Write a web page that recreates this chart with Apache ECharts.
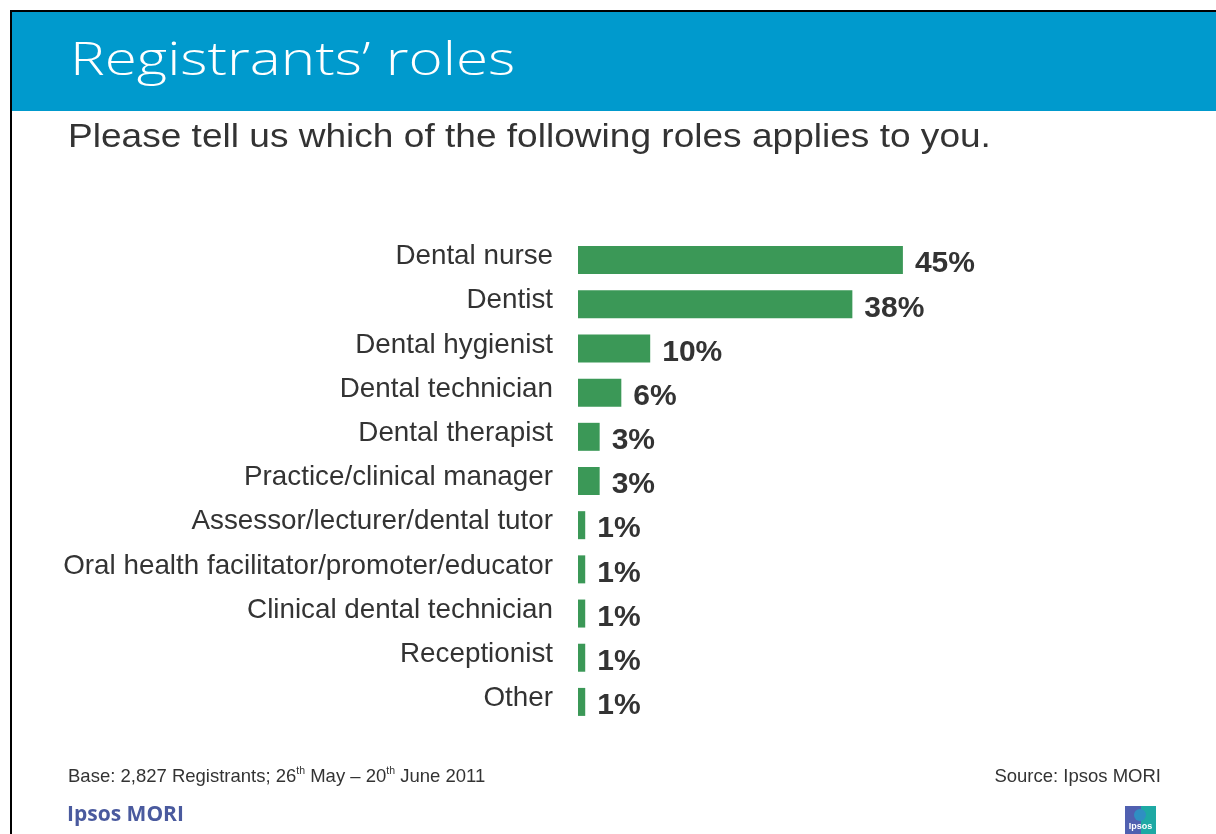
<!DOCTYPE html>
<html>
<head>
<meta charset="utf-8">
<title>Registrants' roles</title>
<script src="https://cdn.jsdelivr.net/npm/echarts@6/dist/echarts.min.js"></script>
<style>
  html, body { margin: 0; padding: 0; background: #ffffff; }
  #chart { width: 1216px; height: 834px; }
</style>
</head>
<body>
<div id="chart"></div>
<script>
// Survey answers: share of registrants per role (percent)
const roles = [
  'Dental nurse',
  'Dentist',
  'Dental hygienist',
  'Dental technician',
  'Dental therapist',
  'Practice/clinical manager',
  'Assessor/lecturer/dental tutor',
  'Oral health facilitator/promoter/educator',
  'Clinical dental technician',
  'Receptionist',
  'Other'
];
const shares = [45, 38, 10, 6, 3, 3, 1, 1, 1, 1, 1];

const titleText = 'Registrants\u2019 roles';
const questionText = 'Please tell us which of the following roles applies to you.';
const sourceText = 'Source: Ipsos MORI';
const brandText = 'Ipsos MORI';

const ARIAL = 'Arial, "Liberation Sans", sans-serif';

const chart = echarts.init(document.getElementById('chart'), null, { renderer: 'canvas' });

const option = {
  backgroundColor: '#ffffff',
  animation: false,
  grid: { left: 578, top: 238, width: 361, height: 486, containLabel: false },
  xAxis: {
    type: 'value',
    min: 0,
    max: 50,
    show: false
  },
  yAxis: {
    type: 'category',
    data: roles,
    inverse: true,
    axisLine: { show: false },
    axisTick: { show: false },
    splitLine: { show: false },
    axisLabel: {
      margin: 25,
      fontFamily: ARIAL,
      fontSize: 27.8,
      color: '#333333',
      // short line box anchored at its bottom lifts each label slightly above its bar
      verticalAlign: 'bottom',
      lineHeight: 7
    }
  },
  series: [{
    type: 'bar',
    data: shares,
    barWidth: 28,
    itemStyle: { color: '#3b9857' },
    label: {
      show: true,
      position: 'right',
      distance: 12,
      offset: [0, 4],
      formatter: '{c}%',
      fontFamily: ARIAL,
      fontWeight: 'bold',
      fontSize: 30,
      color: '#333333'
    }
  }],
  graphic: [
    // header band and frame lines
    { type: 'rect', left: 10, top: 10, shape: { width: 1206, height: 101 }, style: { fill: '#000000' }, z: 0 },
    { type: 'rect', left: 12, top: 12, shape: { width: 1204, height: 99 }, style: { fill: '#009acd' }, z: 1 },
    { type: 'rect', left: 10, top: 10, shape: { width: 2, height: 824 }, style: { fill: '#000000' }, z: 1 },
    {
      type: 'text', x: 70, y: 62, scaleX: 1.27, z: 2,
      style: {
        text: titleText,
        fill: '#ffffff',
        font: '300 46px "Open Sans", "DejaVu Sans", sans-serif',
        verticalAlign: 'middle'
      }
    },
    {
      type: 'text', x: 68, y: 138, scaleX: 1.09, z: 2,
      style: {
        text: questionText,
        fill: '#333333',
        font: '34px ' + ARIAL,
        verticalAlign: 'middle'
      }
    },
    {
      type: 'text', left: 68, top: 764, z: 2,
      style: {
        text: '{n|Base: 2,827 Registrants; 26}{s|th}{n| May \u2013 20}{s|th}{n| June 2011}',
        rich: {
          n: { fontSize: 18.5, fontFamily: ARIAL, fill: '#333333', lineHeight: 22, verticalAlign: 'bottom' },
          s: { fontSize: 10.5, fontFamily: ARIAL, fill: '#333333', lineHeight: 22, verticalAlign: 'top', padding: [2, 0, 0, 0] }
        }
      }
    },
    {
      type: 'text', right: 55, top: 767, z: 2,
      style: {
        text: sourceText,
        fill: '#333333',
        font: '18.5px ' + ARIAL
      }
    },
    {
      type: 'text', left: 67, top: 805, z: 2,
      style: {
        text: brandText,
        fill: '#4a5a9e',
        font: 'bold 21px "Open Sans", "DejaVu Sans", sans-serif'
      }
    },
    // small brand mark, bottom right
    {
      type: 'group', left: 1125, top: 806, z: 2,
      children: [
        { type: 'rect', shape: { x: 0, y: 0, width: 16, height: 28 }, style: { fill: '#5060b0' } },
        { type: 'rect', shape: { x: 16, y: 0, width: 15, height: 28 }, style: { fill: '#1ea9a4' } },
        { type: 'circle', shape: { cx: 15, cy: 9, r: 6 }, style: { fill: '#2f8fc2' } },
        {
          type: 'text', x: 15.5, y: 21,
          style: { text: 'Ipsos', fill: '#ffffff', font: 'bold 9px Arial, sans-serif', align: 'center', verticalAlign: 'middle' }
        }
      ]
    }
  ]
};

chart.setOption(option);
</script>
</body>
</html>
